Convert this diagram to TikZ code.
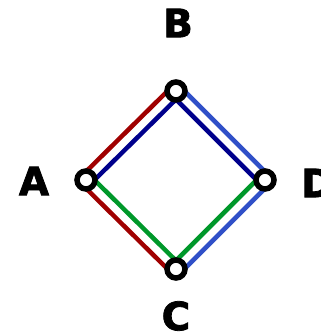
\documentclass[tikz,border=0pt]{standalone}
\usepackage{fontspec}
\setmainfont{DejaVu Sans}
\newfontfamily\heavyfont[FakeBold=2]{DejaVu Sans Bold}
\usetikzlibrary{calc}
\definecolor{cred}{HTML}{A00000}
\definecolor{cnavy}{HTML}{00008C}
\definecolor{cgreen}{HTML}{00982A}
\definecolor{cblue}{HTML}{3050C8}
\begin{document}
\begin{tikzpicture}[x=1pt,y=1pt,
  vert/.style={circle,draw=black,fill=white,line width=5.5pt,minimum size=18pt,inner sep=0pt},
  lab/.style={font=\fontsize{39}{39}\heavyfont,inner sep=0pt},
  track/.style={line width=4.5pt}]
\useasboundingbox (0,0) rectangle (320,336);
\coordinate (A) at (86,156);
\coordinate (B) at (176,245);
\coordinate (D) at (265,156);
\coordinate (C) at (176,67);
\def\off{4.2}
% A-B
\draw[track,cred] ($(A)+(-\off,\off)$) -- ($(B)+(-\off,\off)$);
\draw[track,cnavy] ($(A)+(\off,-\off)$) -- ($(B)+(\off,-\off)$);
% B-D
\draw[track,cblue] ($(B)+(\off,\off)$) -- ($(D)+(\off,\off)$);
\draw[track,cnavy] ($(B)+(-\off,-\off)$) -- ($(D)+(-\off,-\off)$);
% A-C
\draw[track,cred] ($(A)+(-\off,-\off)$) -- ($(C)+(-\off,-\off)$);
\draw[track,cgreen] ($(A)+(\off,\off)$) -- ($(C)+(\off,\off)$);
% C-D
\draw[track,cblue] ($(C)+(\off,-\off)$) -- ($(D)+(\off,-\off)$);
\draw[track,cgreen] ($(C)+(-\off,\off)$) -- ($(D)+(-\off,\off)$);
\node[vert] (nA) at (A) {};
\node[vert] (nB) at (B) {};
\node[vert] (nD) at (D) {};
\node[vert] (nC) at (C) {};
\node[lab] (lA) at (34,155) {A};
\node[lab] (lB) at (178,313) {B};
\node[lab] (lC) at (176,20) {C};
\node[lab,anchor=west] (lD) at (301,153) {D};
\end{tikzpicture}
\end{document}
